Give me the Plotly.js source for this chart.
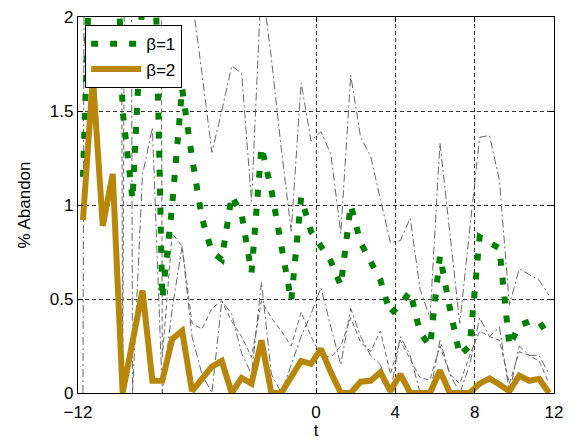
<!DOCTYPE html>
<html>
<head>
<meta charset="utf-8">
<script src="https://cdn.plot.ly/plotly-3.0.1.min.js"></script>
<style>
  html, body { margin: 0; padding: 0; background: #fff; }
  #chart { width: 576px; height: 440px; }
</style>
</head>
<body>
<div id="chart"></div>
<script>
// time axis: 48 samples, half-unit steps
const tValues = [];
for (let k = 0; k < 48; k++) tValues.push(-11.75 + 0.5 * k);

// beta = 1 (green dotted)
const beta1 = [1.15, 4.0, 4.5, 3.2, 1.5, 1.03, 2.1, 3.0, 0.5, 1.0,
  1.62, 1.25, 0.93, 0.75, 0.71, 1.05, 0.95, 0.64, 1.31, 1.08,
  0.8, 0.49, 1.04, 0.86, 0.78, 0.7, 0.57, 1.0, 0.8, 0.7,
  0.6, 0.42, 0.47, 0.54, 0.32, 0.25, 0.73, 0.45, 0.2, 0.25,
  0.83, 0.8, 0.77, 0.25, 0.36, 0.38, 0.38, 0.3];

// beta = 2 (gold solid)
const beta2 = [0.92, 1.68, 0.89, 1.165, 0, 0.27, 0.545, 0.065, 0.065, 0.287,
  0.33, 0.01, 0.07, 0.14, 0.17, 0, 0.08, 0.05, 0.28, 0,
  0, 0.09, 0.17, 0.155, 0.235, 0.11, 0, 0, 0.06, 0.065,
  0.11, 0.01, 0.1, 0, 0, 0, 0.12, 0, 0, 0,
  0.05, 0.078, 0.045, 0.01, 0.092, 0.065, 0.075, 0];

// gray band lines
const bandUpper1 = [6, 8, 8, 7, 6, 5, 5, 5, 4, 3.5,
  2.8, 2.1, 1.7, 1.28, 1.5, 1.74, 1.7, 1.02, 2.2, 1.78,
  1.3, 0.86, 1.65, 1.34, 1.39, 1.27, 0.85, 1.69, 1.36, 1.26,
  1.03, 0.8, 0.81, 0.93, 0.55, 0.4, 1.33, 0.85, 0.37, 0.87,
  1.36, 1.37, 1.13, 0.47, 0.66, 0.63, 0.6, 0.52];

const bandLower1 = [0, 20, 15, 10, 20, 0, 1.16, 1.41, 0, 0.45,
  0.78, 0.3, 0.1, 0, 0.49, 0.42, 0.21, 0.1, 0.59, 0.1,
  0, 0.15, 0.3, 0.42, 0.56, 0.35, 0.15, 0.45, 0.3, 0.2,
  0.15, 0, 0.3, 0.2, 0, 0, 0.28, 0.1, 0, 0.15,
  0.4, 0.3, 0.35, 0, 0.25, 0.2, 0.2, 0.1];

const bandUpper2 = [3, 4, 5, 20, 0, 12, 8, 20, 0.19, 0.85,
  0.78, 0.37, 0.34, 0.45, 0.49, 0.38, 0.3, 0.19, 0.49, 0.4,
  0.33, 0.25, 0.43, 0.3, 0.2, 0.19, 0.25, 0.4, 0.27, 0.22,
  0.33, 0.1, 0.28, 0.18, 0.08, 0.07, 0.25, 0.1, 0.05, 0.2,
  0.33, 0.3, 0.28, 0.05, 0.22, 0.2, 0.17, 0.05];

const xTickVals = [-12, 0, 4, 8, 12];
const xTickText = ['\u221212', '0', '4', '8', '12'];
const yTickVals = [0, 0.5, 1, 1.5, 2];
const yTickText = ['0', '0.5', '1', '1.5', '2'];

const GRAY = 'rgb(105,105,105)';
const DASHDOT = '8px,3px,2px,3px';
const DASHED = '5px,3px';

const traces = [
  { x: tValues, y: bandUpper1, mode: 'lines', showlegend: false, hoverinfo: 'skip',
    line: { color: GRAY, width: 1, dash: DASHDOT } },
  { x: tValues, y: bandLower1, mode: 'lines', showlegend: false, hoverinfo: 'skip',
    line: { color: GRAY, width: 1, dash: DASHDOT } },
  { x: tValues, y: bandUpper2, mode: 'lines', showlegend: false, hoverinfo: 'skip',
    line: { color: GRAY, width: 1, dash: DASHED } },
  { x: tValues, y: beta1, mode: 'lines', name: '\u03B2=1',
    line: { color: 'rgb(0,128,0)', width: 6, dash: '7px,12px' } },
  { x: tValues, y: beta2, mode: 'lines', name: '\u03B2=2',
    line: { color: 'rgb(184,134,11)', width: 6 } }
];

const FONT = 'Liberation Sans, Arial, Helvetica, sans-serif';

const layout = {
  width: 576, height: 440,
  margin: { l: 78, r: 22, t: 17, b: 47 },
  paper_bgcolor: '#fff', plot_bgcolor: '#fff',
  font: { family: FONT, size: 17, color: '#000' },
  showlegend: true,
  legend: {
    x: 0.015, y: 0.978, xanchor: 'left', yanchor: 'top',
    bgcolor: '#fff', bordercolor: '#000', borderwidth: 1,
    font: { family: FONT, size: 17, color: '#000' },
    itemwidth: 50, tracegroupgap: 0
  },
  xaxis: {
    range: [-12, 12], tickmode: 'array', tickvals: xTickVals, ticktext: xTickText,
    showline: true, linecolor: '#000', linewidth: 1.2, mirror: 'ticks',
    ticks: 'inside', ticklen: 5, tickcolor: '#000', ticklabelstandoff: 3,
    showgrid: true, gridcolor: 'rgba(0,0,0,0.8)', griddash: '4px,3px', gridwidth: 1,
    zeroline: false,
    title: { text: 't', font: { family: FONT, size: 17, color: '#000' }, standoff: 4 },
    tickfont: { family: FONT, size: 17, color: '#000' }
  },
  yaxis: {
    range: [0, 2], tickmode: 'array', tickvals: yTickVals, ticktext: yTickText,
    showline: true, linecolor: '#000', linewidth: 1.2, mirror: 'ticks',
    ticks: 'inside', ticklen: 5, tickcolor: '#000',
    showgrid: true, gridcolor: 'rgba(0,0,0,0.8)', griddash: '4px,3px', gridwidth: 1,
    zeroline: false,
    title: { text: '% Abandon', font: { family: FONT, size: 17, color: '#000' }, standoff: 14 },
    tickfont: { family: FONT, size: 17, color: '#000' }
  }
};

Plotly.newPlot('chart', traces, layout, { staticPlot: true, displayModeBar: false });
</script>
</body>
</html>
